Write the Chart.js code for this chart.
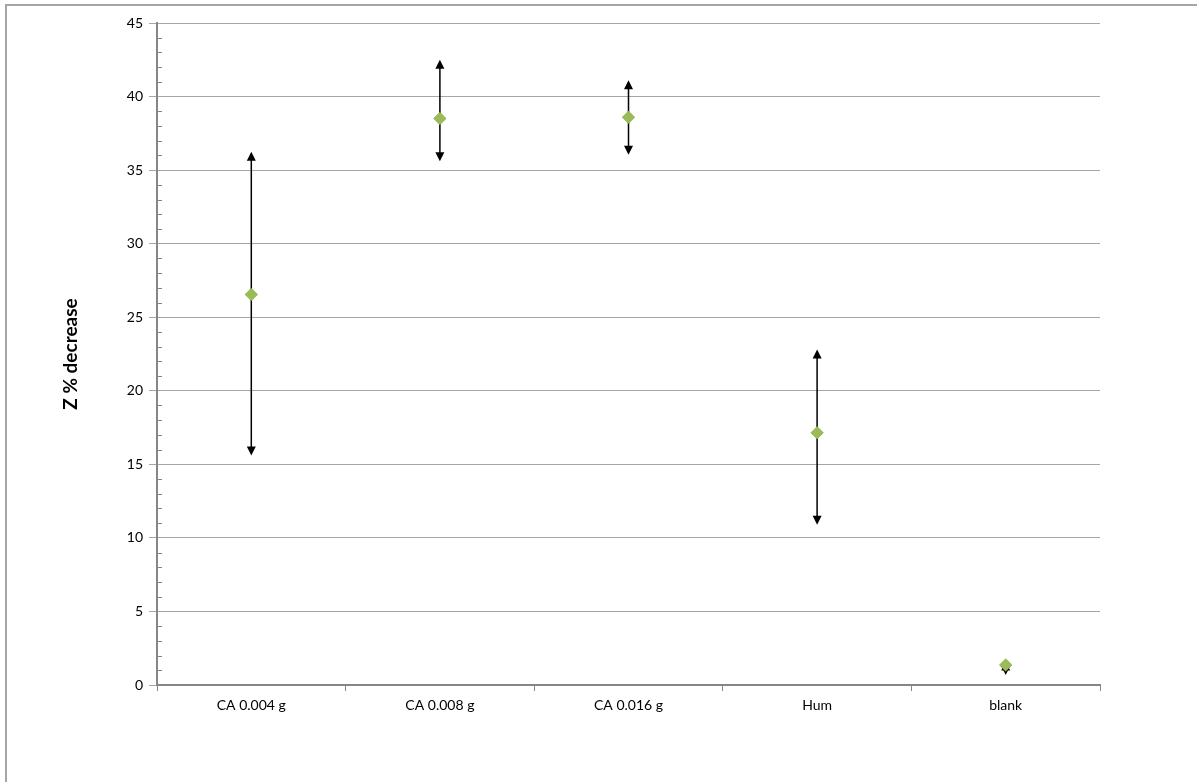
<!DOCTYPE html>
<html>
<head>
<meta charset="utf-8">
<script src="https://cdn.jsdelivr.net/npm/chart.js@4.4.0/dist/chart.umd.min.js"></script>
<style>
  html, body { margin: 0; padding: 0; background: #fff; overflow: hidden; }
  #wrap { position: relative; width: 1197px; height: 782px; }
  #frame { position: absolute; left: 5px; top: 4px; width: 1300px; height: 900px; border: 2px solid #a6a6a6; box-sizing: border-box; }
  #chart { position: absolute; left: 0; top: 0; }
</style>
</head>
<body>
<div id="wrap">
  <div id="frame"></div>
  <canvas id="chart" width="1197" height="782"></canvas>
</div>
<script>
const categories = ["CA 0.004 g", "CA 0.008 g", "CA 0.016 g", "Hum", "blank"];
const meanValues = [26.55, 38.5, 38.6, 17.15, 1.36];
const upperValues = [36.25, 42.5, 41.1, 22.8, 1.6];
const lowerValues = [15.6, 35.6, 36.05, 10.9, 0.68];
const yTicks = [0, 5, 10, 15, 20, 25, 30, 35, 40, 45];

// error bars with arrow heads, drawn from the data through the scales
const errorBars = {
    id: "errorBars",
    afterDatasetsDraw(chart) {
        const ctx = chart.ctx;
        const x = chart.scales.x;
        const y = chart.scales.y;
        ctx.save();
        ctx.strokeStyle = "#000";
        ctx.fillStyle = "#000";
        ctx.lineWidth = 1.5;
        categories.forEach((cat, i) => {
            const px = x.getPixelForValue(i);
            const top = y.getPixelForValue(upperValues[i]);
            const bot = y.getPixelForValue(lowerValues[i]);
            ctx.beginPath();
            ctx.moveTo(px, top + 4);
            ctx.lineTo(px, bot - 4);
            ctx.stroke();
            ctx.beginPath();
            ctx.moveTo(px, top);
            ctx.lineTo(px - 4.5, top + 9);
            ctx.lineTo(px + 4.5, top + 9);
            ctx.closePath();
            ctx.fill();
            ctx.beginPath();
            ctx.moveTo(px, bot);
            ctx.lineTo(px - 4.5, bot - 9);
            ctx.lineTo(px + 4.5, bot - 9);
            ctx.closePath();
            ctx.fill();
        });
        // redraw the markers on top of the bars
        chart.getDatasetMeta(0).data.forEach(pt => pt.draw(ctx, chart.chartArea));
        ctx.restore();
    }
};

// minor ticks on the value axis (inside the plot)
const minorTicks = {
    id: "minorTicks",
    afterDraw(chart) {
        const ctx = chart.ctx;
        const y = chart.scales.y;
        const left = chart.chartArea.left;
        ctx.save();
        ctx.strokeStyle = "#868686";
        ctx.lineWidth = 1;
        for (let v = 0; v <= 45; v++) {
            if (v % 5 === 0) continue;
            const py = Math.round(y.getPixelForValue(v)) + 0.5;
            ctx.beginPath();
            ctx.moveTo(left, py);
            ctx.lineTo(left + 5, py);
            ctx.stroke();
        }
        ctx.restore();
    }
};

new Chart("chart", {
    type: "line",
    data: {
        labels: categories,
        datasets: [{
            label: "Z % decrease",
            data: meanValues,
            showLine: false,
            pointStyle: "rectRot",
            pointRadius: 6.5,
            pointHoverRadius: 6.5,
            pointBackgroundColor: "#9BBB59",
            pointBorderColor: "#9BBB59",
            pointBorderWidth: 0
        }]
    },
    options: {
        responsive: false,
        animation: false,
        events: [],
        layout: { padding: { left: 0, top: 23, right: 97, bottom: 0 } },
        plugins: { legend: { display: false }, tooltip: { enabled: false } },
        scales: {
            x: {
                type: "category",
                offset: true,
                afterFit: s => { s.height = 97; },
                grid: { offset: true, drawOnChartArea: false, tickLength: 6, color: "#868686" },
                border: { color: "#868686", width: 2 },
                ticks: { color: "#000", padding: 6, font: { family: "Lato", size: 14 } }
            },
            y: {
                min: 0,
                max: 45,
                afterFit: s => { s.width = 157; },
                afterBuildTicks: s => { s.ticks = yTicks.map(v => ({ value: v })); },
                grid: { color: "#a6a6a6", tickLength: 8, lineWidth: 1 },
                border: { color: "#868686", width: 2 },
                ticks: { color: "#000", padding: 6, font: { family: "Lato", size: 14 } },
                title: {
                    display: true,
                    text: "Z % decrease",
                    color: "#000",
                    font: { family: "Lato", size: 19, weight: "bold" },
                    padding: { top: 59, bottom: 0 }
                }
            }
        }
    },
    plugins: [errorBars, minorTicks]
});
</script>
</body>
</html>
